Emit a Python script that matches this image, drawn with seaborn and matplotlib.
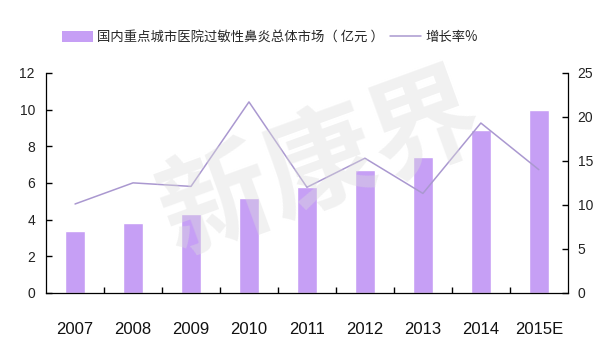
import matplotlib
matplotlib.use("Agg")
import matplotlib.pyplot as plt
import seaborn as sns
import numpy as np
import pandas as pd
from matplotlib.patches import Patch
from matplotlib.lines import Line2D

years = ["2007", "2008", "2009", "2010", "2011", "2012", "2013", "2014", "2015E"]
market = [3.4, 3.8, 4.3, 5.2, 5.8, 6.7, 7.4, 8.9, 10.0]
growth = [10.1, 12.5, 12.1, 21.7, 12.0, 15.3, 11.3, 19.3, 14.0]

bar_label = "国内重点城市医院过敏性鼻炎总体市场（ 亿元 ）"
line_label = "增长率%"

sns.set_theme(style="ticks")
plt.rcParams["font.family"] = ["Liberation Sans", "Noto Sans CJK SC", "DejaVu Sans"]

bar_color = "#c69ff5"
line_color = "#aa98d0"
axis_color = "#000000"

df = pd.DataFrame({"year": years, "market": market, "growth": growth})

fig = plt.figure(figsize=(6.06, 3.47), dpi=100)
ax = fig.add_axes([0.076, 0.156, 0.861, 0.634])

sns.barplot(data=df, x="year", y="market", color=bar_color, width=0.34,
            saturation=1, ax=ax, zorder=2)
ax.set_xlim(-0.5, len(years) - 0.5)
ax.set_ylim(0, 12)
ax.set_yticks(np.arange(0, 13, 2))
ax.set_xlabel("")
ax.set_ylabel("")

ax2 = ax.twinx()
sns.lineplot(x=np.arange(len(years)), y=df["growth"], color=line_color,
             linewidth=1.1, ax=ax2, zorder=3)
ax2.set_ylim(0, 25)
ax2.set_yticks(np.arange(0, 26, 5))
ax2.set_xlim(-0.5, len(years) - 0.5)
ax2.set_ylabel("")

# category boundary ticks on the x axis
ax.set_xticks(np.arange(len(years)))
ax.set_xticklabels(years, fontsize=12)
ax.set_xticks(np.arange(0.5, len(years) - 0.5, 1), minor=True)
ax.tick_params(axis="x", which="major", length=0, pad=21, labelcolor="#111111",
               bottom=True)
ax.tick_params(axis="x", which="minor", length=4.5, width=1.0, direction="in",
               color=axis_color, bottom=True)
ax.tick_params(axis="y", length=4, width=1.0, direction="in", labelsize=10,
               color=axis_color, labelcolor="#222222", pad=8, left=True)
ax2.tick_params(axis="y", length=4, width=1.0, direction="in", labelsize=10,
                color=axis_color, labelcolor="#222222", pad=7, right=True)

for a in (ax, ax2):
    a.spines["top"].set_visible(False)
    for side in ("left", "right", "bottom"):
        a.spines[side].set_color(axis_color)
        a.spines[side].set_linewidth(0.9)
ax.spines["right"].set_visible(False)
ax2.spines["left"].set_visible(False)
ax2.spines["bottom"].set_visible(False)

# faint watermark across the plot
fig.text(0.53, 0.52, "新康界", fontsize=80, fontweight="bold",
         family=["Noto Sans CJK SC"], color="#dcdcdc", alpha=0.4,
         rotation=20, ha="center", va="center", zorder=10)

handles = [Patch(facecolor=bar_color, edgecolor="none"),
           Line2D([0], [0], color=line_color, linewidth=1.1)]
fig.legend(handles, [bar_label, line_label], loc="center",
           bbox_to_anchor=(0.445, 0.893), ncol=2, frameon=False,
           handlelength=2.3, handleheight=0.85,
           columnspacing=0.5, handletextpad=0.3,
           prop={"family": ["Noto Sans CJK SC", "DejaVu Sans"], "size": 9.6})

fig.savefig("out.png", dpi=100)
